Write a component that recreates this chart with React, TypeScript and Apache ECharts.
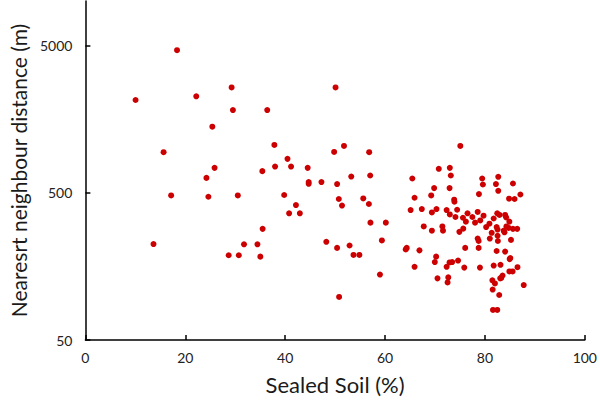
import React, { useEffect, useRef } from "react";
import * as echarts from "echarts";

// Sealed soil (%) values
const sealedSoil: number[] = [
  18.35, 10.05, 22.2, 29.28, 29.54, 36.41, 25.42, 15.66, 37.84, 40.47,
  37.98, 41.18, 44.51, 25.87, 35.43, 24.24, 44.71, 44.71, 47.26, 17.17,
  24.63, 30.52, 39.8, 50.09, 49.81, 51.78, 56.82, 75.07, 50.4, 53.23,
  57.02, 65.46, 70.76, 72.97, 73.17, 69.83, 72.92, 69.24, 65.91, 55.64,
  50.74, 79.45, 79.59, 82.67, 82.2, 85.61, 82.67, 78.8, 87.1, 84.83,
  85.93, 73.84, 42.16, 40.79, 42.94, 35.49, 13.64, 31.76, 34.45, 28.69,
  30.72, 35.03, 48.24, 51.38, 56.76, 57.08, 60.16, 50.4, 52.9, 53.68,
  54.86, 59.37, 58.98, 50.8, 65.12, 67.36, 69.38, 70.3, 73.9, 72.33,
  72.97, 74.43, 74.09, 76.51, 75.6, 76.19, 77.49, 78.55, 78.02, 79.06,
  79.72, 67.75, 69.38, 71.48, 71.6, 75.66, 74.88, 80.24, 80.9, 81.75,
  82.47, 82.92, 84.04, 84.24, 84.89, 82.34, 82.53, 81.35, 83.77, 83.91,
  84.3, 84.75, 85.61, 86.46, 80.98, 82.53, 82.59, 85.22, 78.55, 78.74,
  78.74, 76.05, 64.14, 64.34, 66.89, 70.23, 69.97, 72.92, 73.44, 74.62,
  72.33, 75.86, 79.0, 65.91, 82.34, 84.04, 85.08, 84.95, 81.75, 83.12,
  86.52, 84.89, 85.54, 83.53, 83.27, 83.06, 81.49, 82.0, 81.55, 82.86,
  87.77, 70.5, 72.66, 72.52, 81.61, 82.47,
];

// Nearest neighbour distance (m) values
const distance: number[] = [
  4635, 2128, 2254, 2590, 1819, 1819, 1402, 941, 1054, 848,
  752, 752, 737, 737, 700, 630, 590, 574, 590, 479,
  469, 479, 482, 2590, 945, 1038, 941, 1038, 572, 643,
  654, 624, 726, 737, 654, 537, 537, 479, 462, 457,
  453, 624, 568, 641, 572, 577, 515, 489, 486, 455,
  453, 448, 412, 362, 362, 284, 224, 223, 223, 188,
  188, 184, 232, 409, 419, 313, 313, 211, 219, 189,
  189, 237, 139, 98, 381, 387, 367, 387, 434, 381,
  356, 383, 342, 362, 338, 318, 342, 370, 313, 324,
  349, 295, 276, 295, 276, 285, 271, 292, 308, 334,
  362, 353, 353, 340, 318, 292, 281, 267, 276, 269,
  295, 288, 284, 284, 244, 255, 235, 239, 244, 235,
  211, 211, 206, 211, 203, 184, 169, 168, 169, 173,
  157, 155, 155, 157, 201, 199, 180, 177, 160, 162,
  156, 146, 146, 137, 132, 131, 127, 121, 110, 101,
  118, 131, 133, 123, 80, 80,
];

const xTicks: number[] = [0, 20, 40, 60, 80, 100];
const yTickLabels: number[] = [50, 500, 5000];
const yMinValue = 50;
const yMaxValue = 10000;

const FONT = "Lato, 'Open Sans', sans-serif";

export default function App() {
  const ref = useRef<HTMLDivElement>(null);

  useEffect(() => {
    document.body.style.margin = "0";
    if (!ref.current) return;
    const chart = echarts.init(ref.current, undefined, { renderer: "svg" });
    const toLog = (v: number) => Math.log10(v / yMinValue);
    const data = sealedSoil.map((x, i) => [x, toLog(distance[i])]);

    chart.setOption({
      animation: false,
      backgroundColor: "#ffffff",
      grid: { left: 77, right: 15, top: 1, height: 340, containLabel: false },
      xAxis: {
        type: "value",
        min: xTicks[0],
        max: xTicks[xTicks.length - 1],
        interval: 20,
        name: "Sealed Soil (%)",
        nameLocation: "middle",
        nameGap: 33,
        nameTextStyle: { fontFamily: FONT, fontSize: 22, color: "#1a1a1a" },
        axisLine: { show: true, lineStyle: { color: "#000", width: 1.5 } },
        axisTick: { show: true, inside: true, length: 5, lineStyle: { color: "#000", width: 1.5 } },
        axisLabel: { fontFamily: FONT, fontSize: 14, color: "#222", margin: 10 },
        splitLine: { show: false },
      },
      yAxis: {
        type: "value",
        min: 0,
        max: toLog(yMaxValue),
        name: "Nearesrt neighbour distance (m)",
        nameLocation: "middle",
        nameGap: 54,
        nameRotate: 90,
        nameTextStyle: { fontFamily: FONT, fontSize: 21, color: "#1a1a1a" },
        axisLine: { show: true, lineStyle: { color: "#000", width: 1.5 } },
        axisTick: {
          show: true,
          inside: true,
          length: 5,
          lineStyle: { color: "#000", width: 1.5 },
          customValues: yTickLabels.map(toLog),
        },
        axisLabel: {
          fontFamily: FONT,
          fontSize: 14,
          color: "#222",
          margin: 13,
          customValues: yTickLabels.map(toLog),
          formatter: (v: number) => String(Math.round(yMinValue * Math.pow(10, v))),
        },
        splitLine: { show: false },
      },
      series: [
        {
          type: "scatter",
          data,
          symbol: "circle",
          symbolSize: 6,
          itemStyle: { color: "#cc0000", opacity: 1 },
        },
      ],
    });

    return () => chart.dispose();
  }, []);

  return <div ref={ref} style={{ width: 600, height: 400 }} />;
}
